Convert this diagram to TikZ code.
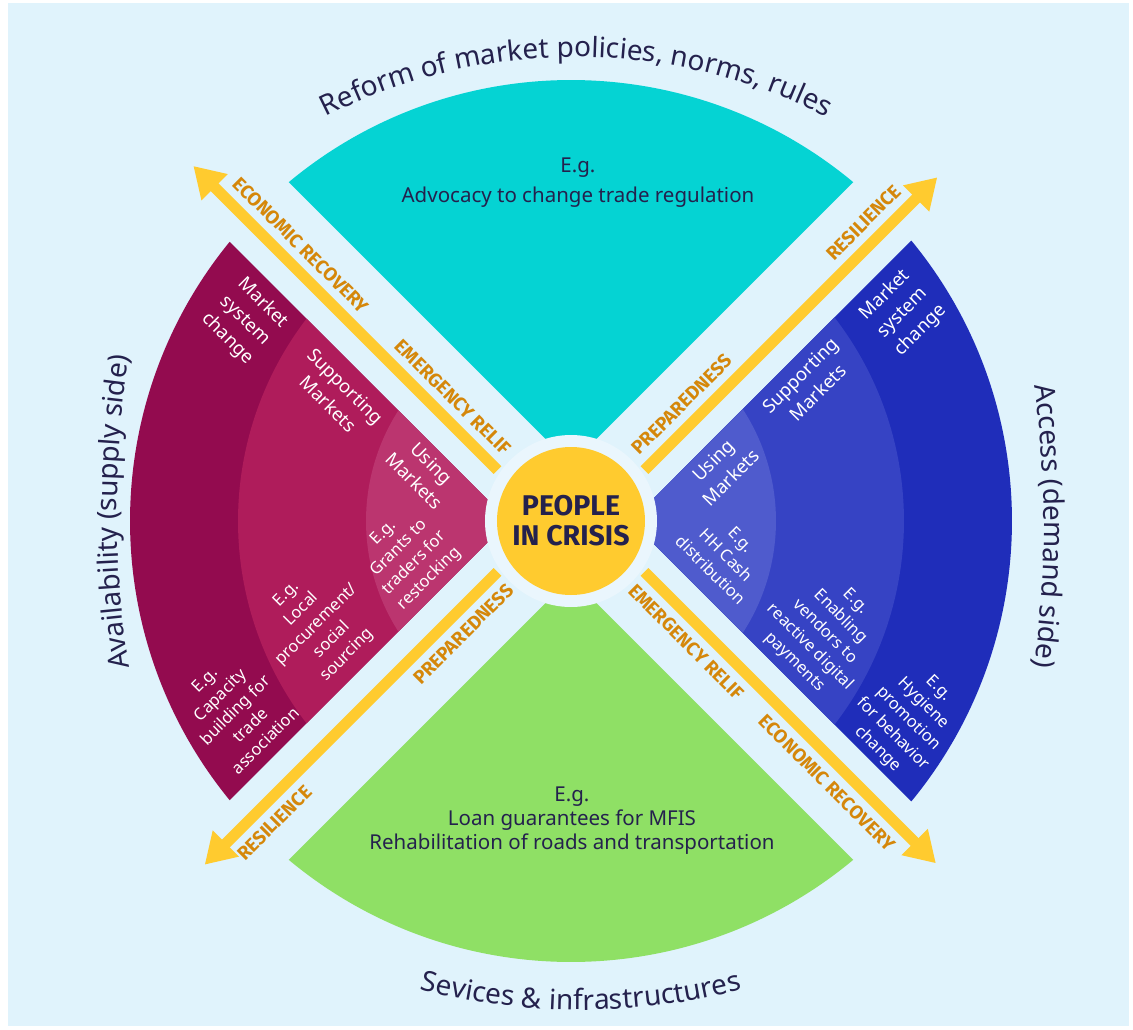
\documentclass[tikz,border=0pt]{standalone}
\usepackage{fontspec}
\setmainfont{Noto Sans}
\newfontfamily\crisisfont{Fira Sans}
\usetikzlibrary{arrows.meta,decorations.text,calc}
\definecolor{bgblue}{HTML}{E0F3FC}
\definecolor{haloblue}{HTML}{EAF6FD}
\definecolor{topcyan}{HTML}{05D3D3}
\definecolor{botgreen}{HTML}{8FE065}
\definecolor{purA}{HTML}{930B4F}
\definecolor{purB}{HTML}{AF1C5B}
\definecolor{purC}{HTML}{BB356F}
\definecolor{bluA}{HTML}{1F2DBA}
\definecolor{bluB}{HTML}{3643C4}
\definecolor{bluC}{HTML}{4F5BCD}
\definecolor{sun}{HTML}{FFCB2F}
\definecolor{ochre}{HTML}{D5870A}
\definecolor{navy}{HTML}{24214D}
\newcommand{\titlesize}{\fontsize{28}{32}\selectfont}
% #1 colour, #2 radius, #3 middle angle, #4 apex distance, #5 half angle
\newcommand{\mywedge}[5]{%
  \pgfmathsetmacro{\myoff}{#5-asin(#4*sin(#5)/#2)}%
  \pgfmathsetmacro{\mysa}{#3-\myoff}%
  \pgfmathsetmacro{\myea}{#3+\myoff}%
  \fill[#1] (#3:#4pt) -- (\mysa:#2pt) arc[start angle=\mysa, end angle=\myea, radius=#2pt] -- cycle;}
\begin{document}
\begin{tikzpicture}[x=1pt,y=1pt,
  wtitle/.style={text=white, align=center, inner sep=0pt, font=\fontsize{18.5}{25}\selectfont},
  wex/.style={text=white, align=center, inner sep=0pt, font=\fontsize{16.5}{21.5}\selectfont},
  lab/.style={text=ochre, inner sep=0pt, font=\crisisfont\bfseries\fontsize{19}{21}\selectfont},
  yarrow/.style={draw=sun, line width=11pt, -{Triangle[width=35pt,length=30pt]}},
  curvetitle/.style={decorate, decoration={text along path, text align=center, text color=navy, text={|\titlesize|#1}}}
]
\useasboundingbox (-571,-508) rectangle (562,521);
\fill[white] (-571,-508) rectangle (562,521);
\fill[bgblue] (-563,-505) rectangle (558,518);

% wedges
\mywedge{topcyan}{441}{90}{56.57}{45}
\mywedge{botgreen}{441}{270}{56.57}{45}
\mywedge{purA}{441}{180}{62.2}{45}
\mywedge{purB}{333}{180}{62.2}{45}
\mywedge{purC}{205}{180}{62.2}{45}
\mywedge{bluA}{441}{0}{60}{45}
\mywedge{bluB}{333}{0}{60}{45}
\mywedge{bluC}{205}{0}{60}{45}

% centre
\node[circle, fill=haloblue, minimum size=172pt, inner sep=0pt] (halo) at (0,0) {};
\node[circle, fill=sun, minimum size=148pt, inner sep=0pt, text=navy, align=center,
      font=\crisisfont\bfseries\fontsize{28.5}{30}\selectfont] (core) at (0,0) {PEOPLE\\IN CRISIS};

% arrow coordinates
\begin{scope}[rotate=135]
  \coordinate (nwS) at (88,16); \coordinate (nwE) at (518,16);
  \coordinate (nwL1) at (171,-4); \coordinate (nwL2) at (386,-4);
\end{scope}
\begin{scope}[rotate=45]
  \coordinate (neS) at (88,-16); \coordinate (neE) at (502,-16);
  \coordinate (neL1) at (161,4); \coordinate (neL2) at (418,4);
\end{scope}
\begin{scope}[rotate=225]
  \coordinate (swS) at (88,-16); \coordinate (swE) at (502,-16);
  \coordinate (swL1) at (156,4); \coordinate (swL2) at (423,4);
\end{scope}
\begin{scope}[rotate=315]
  \coordinate (seS) at (88,16); \coordinate (seE) at (500,16);
  \coordinate (seL1) at (167,-4); \coordinate (seL2) at (366,-4);
\end{scope}

\draw[yarrow] (nwS) -- (nwE);
\draw[yarrow] (neS) -- (neE);
\draw[yarrow] (swS) -- (swE);
\draw[yarrow] (seS) -- (seE);

\node[lab, rotate=-45] (nwl1) at (nwL1) {EMERGENCY RELIF};
\node[lab, rotate=-45] (nwl2) at (nwL2) {ECONOMIC RECOVERY};
\node[lab, rotate=45] (nel1) at (neL1) {PREPAREDNESS};
\node[lab, rotate=45] (nel2) at (neL2) {RESILIENCE};
\node[lab, rotate=45] (swl1) at (swL1) {PREPAREDNESS};
\node[lab, rotate=45] (swl2) at (swL2) {RESILIENCE};
\node[lab, rotate=-45] (sel1) at (seL1) {EMERGENCY RELIF};
\node[lab, rotate=-45] (sel2) at (seL2) {ECONOMIC RECOVERY};

% top / bottom wedge texts
\node[text=navy, align=center, inner sep=0pt, font=\fontsize{20.5}{23}\selectfont] (toptext) at (7,338)
  {E.g.\\[7pt]Advocacy to change trade regulation};
\node[text=navy, align=center, inner sep=0pt, font=\fontsize{20.5}{24}\selectfont] (bottext) at (1,-300)
  {E.g.\\Loan guarantees for MFIS\\Rehabilitation of roads and transportation};

% left wedge texts
\node[wtitle, rotate=-45] (pm1) at (-326,200) {Market\\system\\change};
\node[wtitle, rotate=-45] (pm2) at (-234,126) {Supporting\\Markets};
\node[wtitle, rotate=-45] (pm3) at (-148,49) {Using\\Markets};
\node[wex, rotate=45] (pe3) at (-164,-35) {E.g.\\Grants to\\traders for\\restocking};
\node[wex, rotate=45] (pe2) at (-254,-104) {E.g.\\Local\\procurement/\\social\\sourcing};
\node[wex, rotate=45] (pe1) at (-336,-189) {E.g.\\Capacity\\building for\\trade\\association};

% right wedge texts
\node[wtitle, rotate=45] (bm1) at (332,208) {Market\\system\\change};
\node[wtitle, rotate=45] (bm2) at (238,137) {Supporting\\Markets};
\node[wtitle, rotate=45] (bm3) at (151,52) {Using\\Markets};
\node[wex, rotate=-45] (be3) at (155,-34) {E.g.\\HH Cash\\distribution};
\node[wex, rotate=-45] (be2) at (254,-111) {E.g.\\Enabling\\vendors to\\reactive digital\\payments};
\node[wex, rotate=-45] (be1) at (337,-198) {E.g.\\Hygiene\\promotion\\for behavior\\change};

% curved titles
\coordinate (topc) at (5,-87);
\coordinate (botc) at (10,159);
\coordinate (leftc) at (546,9);
\coordinate (rightc) at (-527,-5);
\path[curvetitle={Reform of market policies, norms, rules}]
  ($(topc)+(130:551pt)$) arc[start angle=130, end angle=50, radius=551pt];
\path[curvetitle={Sevices {\&} infrastructures}]
  ($(botc)+(245:648pt)$) arc[start angle=245, end angle=295, radius=648pt];
\path[curvetitle={Availability (supply side)}]
  ($(leftc)+(194:1000pt)$) arc[start angle=194, end angle=166, radius=1000pt];
\path[curvetitle={Access (demand side)}]
  ($(rightc)+(14:1000pt)$) arc[start angle=14, end angle=-14, radius=1000pt];
\end{tikzpicture}
\end{document}
